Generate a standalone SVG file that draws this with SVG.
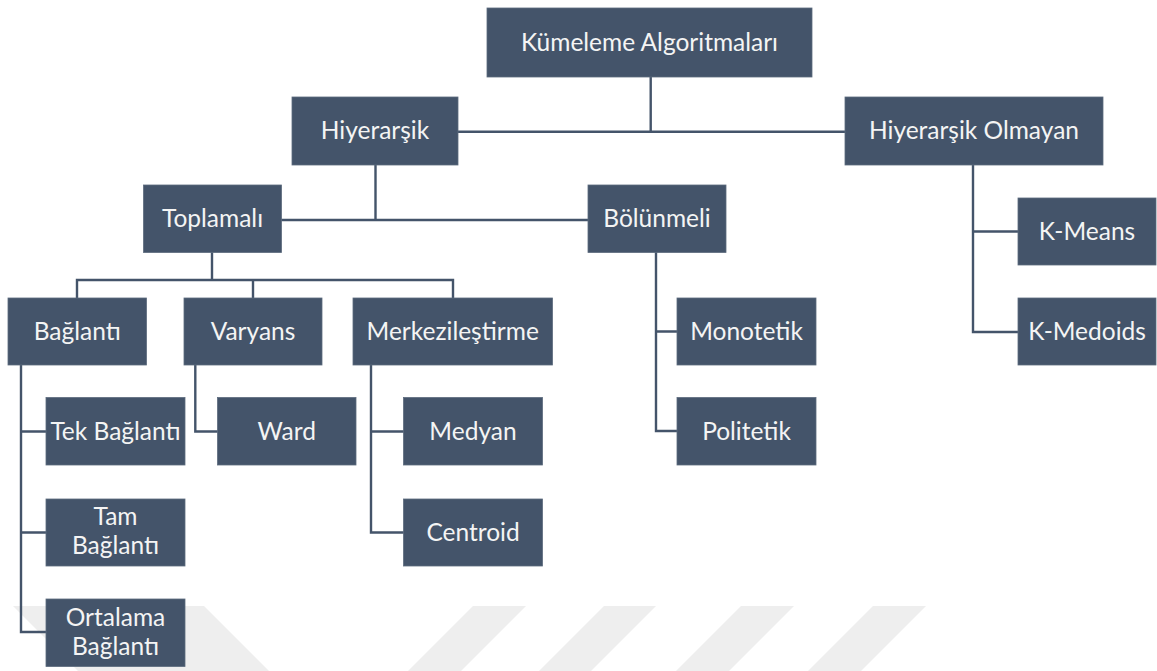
<svg xmlns="http://www.w3.org/2000/svg" width="1157" height="671" viewBox="0 0 1157 671">
<style>
.box{fill:#44546a;stroke:#5d6b7e;stroke-width:0.8}
.lbl{font-family:Lato,"Open Sans","Liberation Sans",sans-serif;font-size:24.5px;fill:#f4f4f4;text-anchor:middle}
.con{fill:none;stroke:#44546a;stroke-width:2.4;stroke-linecap:square}
.wm{fill:#eeeeee}
</style>
<rect width="1157" height="671" fill="#ffffff"/>
<g id="watermark">
<polygon class="wm" points="13,606 204,606 269,671 78,671"/>
<polygon class="wm" points="473,606 526,606 461,671 408,671"/>
<polygon class="wm" points="604,606 656,606 591,671 539,671"/>
<polygon class="wm" points="741,606 794,606 729,671 676,671"/>
<polygon class="wm" points="873,606 926,606 861,671 808,671"/>
</g>
<g id="connectors">
<path class="con" d="M650.7,77 V131.7 M459,131.7 H844"/>
<path class="con" d="M375.5,165 V220 M282,220 H587"/>
<path class="con" d="M212,253 V280 M77,297 V280 H453 V297 M253,280 V297"/>
<path class="con" d="M21,365 V632 H46 M21,431.5 H46 M21,532.5 H46"/>
<path class="con" d="M195.3,365 V431.5 H217"/>
<path class="con" d="M371,365 V532.5 H403 M371,431.5 H403"/>
<path class="con" d="M656,253 V431 H677 M656,331.5 H677"/>
<path class="con" d="M973,165 V332 H1018 M973,231.5 H1018"/>
</g>
<g id="root"><rect class="box" x="487" y="8" width="325" height="69"/><text class="lbl" x="649.5" y="51">Kümeleme Algoritmaları</text></g>
<g id="hier"><rect class="box" x="292" y="97" width="166" height="68"/><text class="lbl" x="375" y="139">Hiyerarşik</text></g>
<g id="nonhier"><rect class="box" x="845" y="97" width="258" height="68"/><text class="lbl" x="974" y="139">Hiyerarşik Olmayan</text></g>
<g id="toplamali"><rect class="box" x="143.5" y="185" width="138" height="67.5"/><text class="lbl" x="212.5" y="227">Toplamalı</text></g>
<g id="bolunmeli"><rect class="box" x="588" y="185" width="138" height="67.5"/><text class="lbl" x="657" y="227">Bölünmeli</text></g>
<g id="kmeans"><rect class="box" x="1018" y="198" width="138" height="67"/><text class="lbl" x="1087" y="240">K-Means</text></g>
<g id="kmedoids"><rect class="box" x="1018" y="298" width="138" height="67"/><text class="lbl" x="1087" y="340">K-Medoids</text></g>
<g id="baglanti"><rect class="box" x="8" y="298" width="138.5" height="67"/><text class="lbl" x="77.2" y="340">Bağlantı</text></g>
<g id="varyans"><rect class="box" x="184" y="298" width="138" height="67"/><text class="lbl" x="253" y="340">Varyans</text></g>
<g id="merkez"><rect class="box" x="353" y="298" width="199.5" height="67"/><text class="lbl" x="452.7" y="340">Merkezileştirme</text></g>
<g id="monotetik"><rect class="box" x="677" y="298" width="139" height="67"/><text class="lbl" x="746.5" y="340">Monotetik</text></g>
<g id="politetik"><rect class="box" x="677" y="397.5" width="139" height="67.5"/><text class="lbl" x="746.5" y="440">Politetik</text></g>
<g id="tek"><rect class="box" x="46" y="397.5" width="139" height="67.5"/><text class="lbl" x="115.5" y="440">Tek Bağlantı</text></g>
<g id="ward"><rect class="box" x="217.5" y="397.5" width="138.5" height="67.5"/><text class="lbl" x="286.7" y="440">Ward</text></g>
<g id="medyan"><rect class="box" x="403.5" y="397.5" width="139" height="67.5"/><text class="lbl" x="473" y="440">Medyan</text></g>
<g id="tam"><rect class="box" x="46" y="499" width="139" height="67"/><text class="lbl" x="115.5" y="525">Tam</text><text class="lbl" x="115.5" y="554">Bağlantı</text></g>
<g id="centroid"><rect class="box" x="403.5" y="499" width="139" height="67"/><text class="lbl" x="473" y="541">Centroid</text></g>
<g id="ortalama"><rect class="box" x="46" y="599" width="139" height="67.5"/><text class="lbl" x="115.5" y="626">Ortalama</text><text class="lbl" x="115.5" y="655">Bağlantı</text></g>
</svg>
